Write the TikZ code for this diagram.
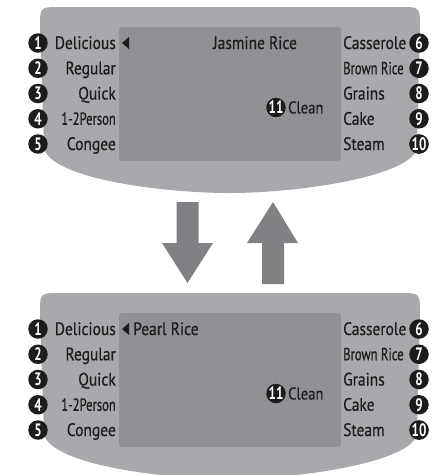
\documentclass[tikz,border=0pt]{standalone}
\usepackage{fontspec}
\setmainfont{PT Sans}
\newfontfamily\labelfont{PT Sans}[FakeStretch=0.86, FakeBold=0.6]
\newfontfamily\narrowfont{PT Sans}[FakeStretch=0.72, FakeBold=0.6]
\newfontfamily\numfont{PT Sans}[FakeStretch=0.72]
\usetikzlibrary{positioning}
\definecolor{panelgray}{RGB}{168,169,172}
\definecolor{screengray}{RGB}{144,145,149}
\definecolor{arrowgray}{RGB}{128,129,133}
\definecolor{inkgray}{RGB}{30,27,28}
\tikzstyle{num}=[fill=inkgray, draw=none, shape=circle, text=white,
        inner sep=0pt, minimum size=19.5pt, font=\numfont\bfseries\fontsize{18}{18}\selectfont]
\tikzstyle{lbl}=[inner sep=0pt, text=inkgray, font=\labelfont\fontsize{18}{18}\selectfont]
\tikzstyle{narrow}=[inner sep=0pt, text=inkgray, font=\narrowfont\fontsize{17.5}{18}\selectfont]

% one control panel, #1 = x of the display text, #2 = display text
\newcommand{\cookerpanel}[2]{%
    \fill[panelgray] (44,148) -- (40,27) .. controls (40,7) .. (60,7) -- (400,7)
        .. controls (420,7) .. (420,27) -- (417,148)
        .. controls (412,176) and (300,193) .. (230,193)
        .. controls (160,193) and (50,178) .. cycle;
    \fill[screengray, rounded corners=3pt] (119,27) rectangle (341,161);
    \fill[inkgray] (122,43) -- (129,37) -- (129,49) -- cycle;
    \node[lbl, anchor=base west] (show) at (#1,49) {#2};

    \node[num] (n1) at (38,43) {1};
    \node[num] (n2) at (38,68.25) {2};
    \node[num] (n3) at (38,93.5) {3};
    \node[num] (n4) at (38,118.75) {4};
    \node[num] (n5) at (38,144) {5};
    \node[lbl, anchor=base east] (t1) at (116,49) {Delicious};
    \node[lbl, anchor=base east] (t2) at (116,74.25) {Regular};
    \node[lbl, anchor=base east] (t3) at (116,99.5) {Quick};
    \node[narrow, anchor=base east] (t4) at (116,124.75) {1-2Person};
    \node[lbl, anchor=base east] (t5) at (116,150) {Congee};

    \node[num] (n6) at (419,43) {6};
    \node[num] (n7) at (419,68.25) {7};
    \node[num] (n8) at (419,93.5) {8};
    \node[num] (n9) at (419,118.75) {9};
    \node[num] (n10) at (419,144) {10};
    \node[lbl, anchor=base west] (t6) at (343,49) {Casserole};
    \node[narrow, anchor=base west] (t7) at (343,74.25) {Brown Rice};
    \node[lbl, anchor=base west] (t8) at (343,99.5) {Grains};
    \node[lbl, anchor=base west] (t9) at (343,124.75) {Cake};
    \node[lbl, anchor=base west] (t10) at (343,150) {Steam};

    \node[num] (n11) at (276,107.5) {11};
    \node[lbl, right=2pt of n11, font=\labelfont\fontsize{17}{17}\selectfont] (t11) {Clean};
}

\begin{document}
\begin{tikzpicture}[x=1pt, y=-1pt]

    \useasboundingbox (0,0) rectangle (445,475);
    \clip (0,0) rectangle (445,475);

    \begin{scope}[name prefix=up-]
        \cookerpanel{213}{Jasmine Rice}
    \end{scope}
    \begin{scope}[name prefix=low-, shift={(0,286)}]
        \cookerpanel{133}{Pearl Rice}
    \end{scope}

    % switching arrows
    \fill[arrowgray] (176.5,202) -- (198.5,202) -- (198.5,243) -- (213,243)
        -- (187.5,283) -- (162,243) -- (176.5,243) -- cycle;
    \fill[arrowgray] (262,284) -- (284,284) -- (284,243) -- (298,243)
        -- (273,202) -- (247,243) -- (262,243) -- cycle;

\end{tikzpicture}
\end{document}
